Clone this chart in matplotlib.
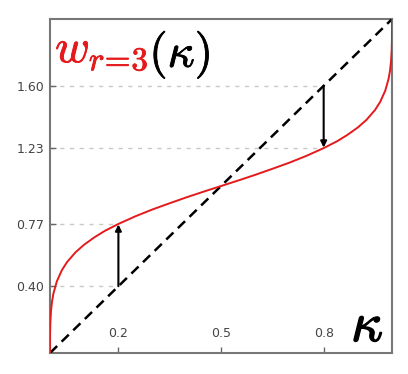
import matplotlib
matplotlib.use("Agg")
import matplotlib.pyplot as plt
import matplotlib.patheffects as pe

plt.rcParams['mathtext.fontset'] = 'cm'

# curve samples (kappa, w)
kappa = [0.0, 0.00002, 0.0002, 0.001, 0.003, 0.006, 0.01, 0.02, 0.035, 0.05, 0.075,
         0.1, 0.13, 0.16, 0.2, 0.25, 0.3, 0.35, 0.4, 0.45, 0.5,
         0.55, 0.6, 0.65, 0.7, 0.75, 0.8, 0.84, 0.87, 0.9, 0.925, 0.95,
         0.965, 0.98, 0.99, 0.994, 0.997, 0.999, 0.9998, 0.99998, 1.0]
w = [0.0, 0.053, 0.111, 0.182, 0.252, 0.308, 0.356, 0.429, 0.497, 0.545, 0.604,
     0.649, 0.693, 0.731, 0.773, 0.819, 0.860, 0.897, 0.933, 0.967, 1.0,
     1.033, 1.067, 1.103, 1.140, 1.181, 1.227, 1.269, 1.307, 1.351, 1.396, 1.455,
     1.503, 1.571, 1.644, 1.692, 1.748, 1.818, 1.889, 1.947, 2.0]

diag_x = [0.0, 1.0]
diag_y = [0.0, 2.0]

arrow_k = [0.2, 0.8]
arrow_from = [0.40, 1.60]
arrow_to = [0.77, 1.23]

yticks = [0.40, 0.77, 1.23, 1.60]
ytick_labels = ["0.40", "0.77", "1.23", "1.60"]
xticks = [0.2, 0.5, 0.8]
xtick_labels = ["0.2", "0.5", "0.8"]

fig = plt.figure(figsize=(4.08, 3.74), dpi=100)
ax = fig.add_axes([0.1225, 0.0561, 0.8385, 0.893])
ax.set_xlim(0, 1)
ax.set_ylim(0, 2)

# guide lines
for k, a, b in zip(arrow_k, arrow_from, arrow_to):
    for yv in (a, b):
        ax.plot([0, k], [yv, yv], color='#c8c8c8', lw=1.0, ls=(0, (3, 4)), zorder=1)

ax.plot(diag_x, diag_y, color='black', lw=1.8, ls=(0, (4, 2.5)), zorder=3)
ax.plot(kappa, w, color='#e41a1c', lw=1.4, zorder=4)

for k, a, b in zip(arrow_k, arrow_from, arrow_to):
    ax.annotate('', xy=(k, b), xytext=(k, a),
                arrowprops=dict(arrowstyle='-|>', color='black', lw=1.5,
                                mutation_scale=9, shrinkA=0, shrinkB=0), zorder=5)

ax.set_xticks(xticks)
ax.set_xticklabels(xtick_labels)
ax.set_yticks(yticks)
ax.set_yticklabels(ytick_labels)
ax.tick_params(axis='x', direction='in', length=4, width=1, color='#666666',
               pad=-19, labelsize=9, labelcolor='#444444')
ax.tick_params(axis='y', direction='in', length=4, width=1, color='#666666',
               pad=4, labelsize=9, labelcolor='#444444')
for s in ax.spines.values():
    s.set_color('#777777')
    s.set_linewidth(1.5)

red_fx = [pe.withStroke(linewidth=0.6, foreground='#e41a1c')]
blk_fx = [pe.withStroke(linewidth=0.6, foreground='black')]

t1 = ax.text(0.015, 1.74, r'$w_{r\!=\!3}$', color='#e41a1c', fontsize=34,
             ha='left', va='baseline', path_effects=red_fx)
ax.annotate(r'$(\kappa)$', xy=(1, 1.74), xycoords=(t1, 'data'),
            xytext=(0.5, -3), textcoords='offset points', ha='left', va='baseline',
            fontsize=34, color='black', path_effects=blk_fx)
ax.text(0.975, 0.07, r'$\kappa$', color='black', fontsize=40, ha='right',
        va='baseline', path_effects=[pe.withStroke(linewidth=1.0, foreground='black')])

fig.savefig('out.png', dpi=100)
